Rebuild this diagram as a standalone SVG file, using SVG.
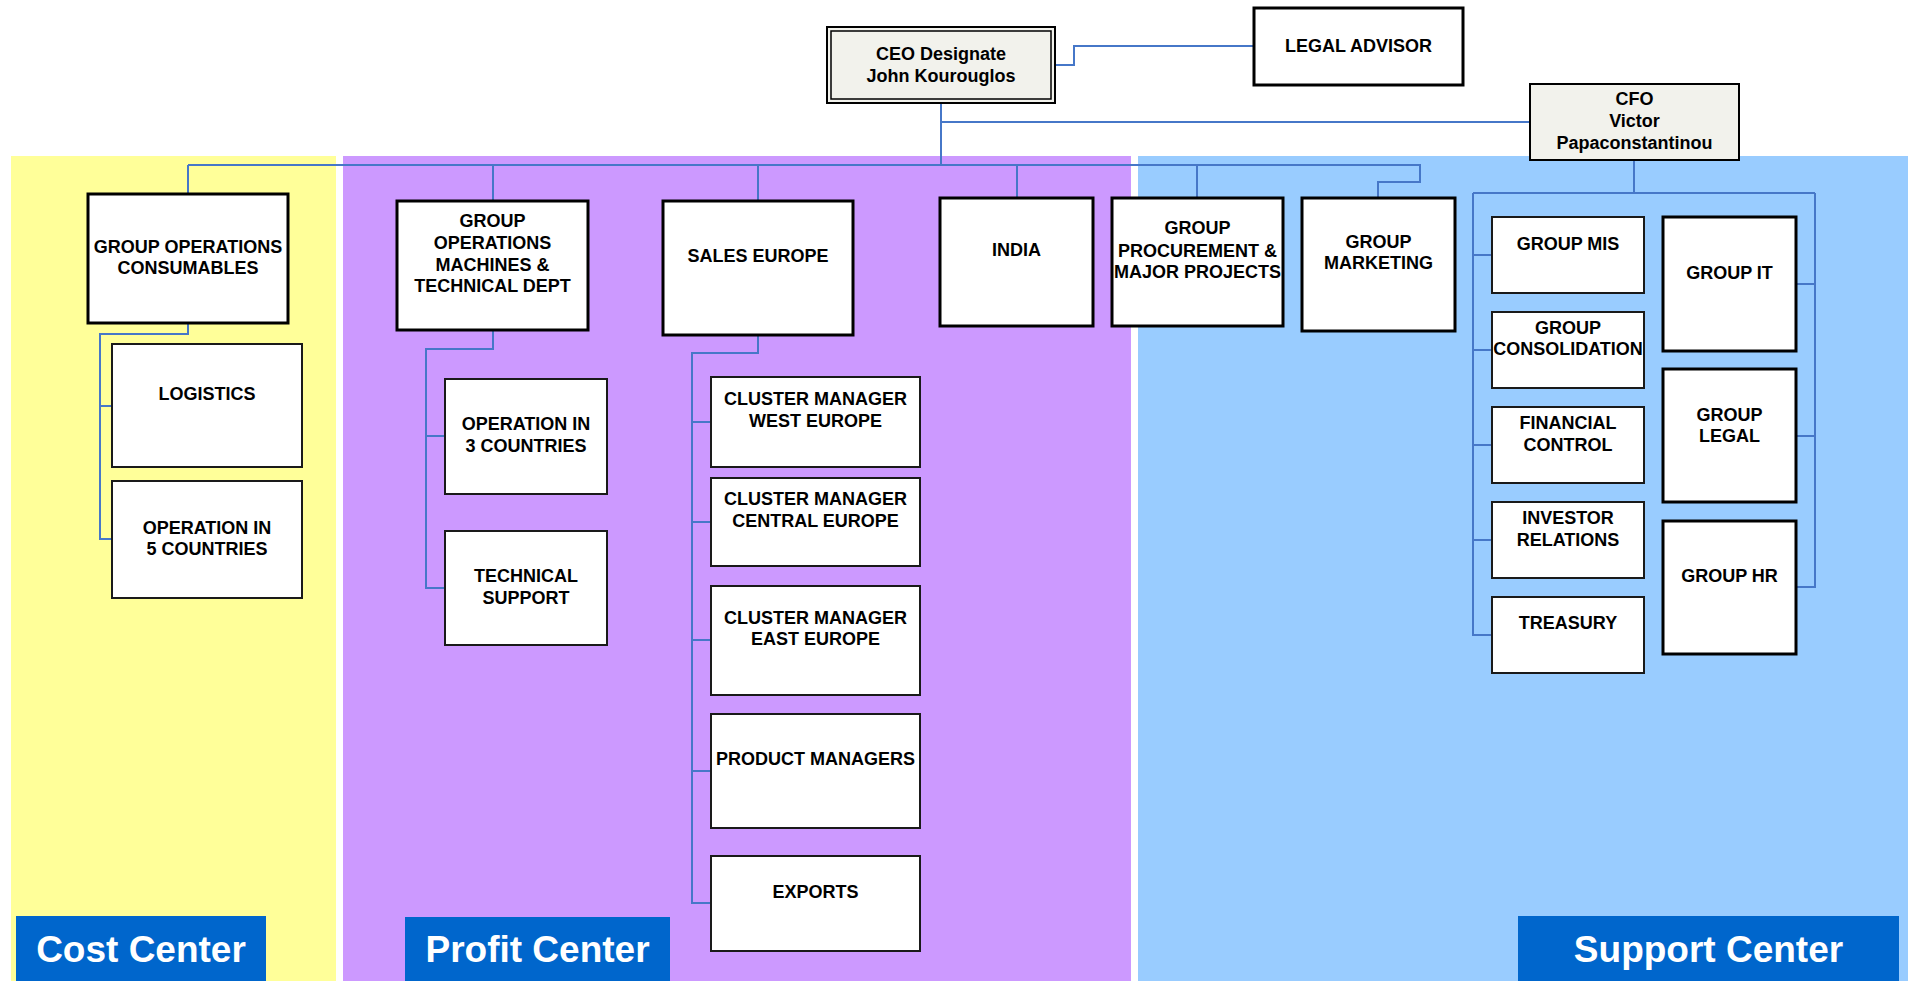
<svg xmlns="http://www.w3.org/2000/svg" width="1908" height="981" viewBox="0 0 1908 981">
<style>
text{font-family:"Liberation Sans",Arial,sans-serif;font-weight:bold;fill:#000;text-anchor:middle;font-size:18px}
.thick{fill:#fff;stroke:#000;stroke-width:3}
.thin{fill:#fff;stroke:#1a1a1a;stroke-width:2}
.exec{fill:#f2f2ec;stroke:#000;stroke-width:2}
.conn{fill:none;stroke:#4677c8;stroke-width:2}
.band{fill:#0066cc}
.bandt{fill:#fff;font-size:37px}
</style>
<rect width="1908" height="981" fill="#fff"/>
<g id="zones">
<rect x="11" y="156" width="325" height="825" fill="#ffff99"/>
<rect x="343" y="156" width="788" height="825" fill="#cc99ff"/>
<rect x="1138" y="156" width="770" height="825" fill="#99ccff"/>
</g>
<g id="connectors" class="conn">
<path d="M1055,65 H1074 V46 H1254"/>
<path d="M941,103 V165"/>
<path d="M941,122 H1530"/>
<path d="M188,165 H1420 V182 H1378 V198"/>
<path d="M188,165 V194 M493,165 V201 M758,165 V201 M1017,165 V198 M1197,165 V198"/>
<path d="M188,323 V334 H100 V539 H112 M100,406 H112"/>
<path d="M493,330 V349 H426 V588 H445 M426,436 H445"/>
<path d="M758,335 V353 H692 V903 H711 M692,422 H711 M692,522 H711 M692,640 H711 M692,771 H711"/>
<path d="M1634,160 V193 M1473,193 H1815"/>
<path d="M1473,193 V635 H1492 M1473,255 H1492 M1473,350 H1492 M1473,445 H1492 M1473,540 H1492"/>
<path d="M1815,193 V587 H1796 M1815,284 H1796 M1815,436 H1796"/>
</g>
<g id="ceo">
<rect class="exec" x="827" y="27" width="228" height="76"/>
<rect x="831" y="31" width="220" height="68" fill="none" stroke="#000" stroke-width="1.5"/>
<text x="941" y="60">CEO Designate</text>
<text x="941" y="82">John Kourouglos</text>
</g>
<g id="legal-advisor">
<rect class="thick" x="1254" y="8" width="209" height="77"/>
<text x="1358.5" y="52">LEGAL ADVISOR</text>
</g>
<g id="cfo">
<rect class="exec" x="1530" y="84" width="209" height="76"/>
<text x="1634.5" y="105">CFO</text>
<text x="1634.5" y="127">Victor</text>
<text x="1634.5" y="149">Papaconstantinou</text>
</g>
<g id="group-operations-consumables">
<rect class="thick" x="88" y="194" width="200" height="129"/>
<text x="188" y="253">GROUP OPERATIONS</text>
<text x="188" y="274">CONSUMABLES</text>
</g>
<g id="logistics">
<rect class="thin" x="112" y="344" width="190" height="123"/>
<text x="207" y="400">LOGISTICS</text>
</g>
<g id="operation-5-countries">
<rect class="thin" x="112" y="481" width="190" height="117"/>
<text x="207" y="534">OPERATION IN</text>
<text x="207" y="555">5 COUNTRIES</text>
</g>
<g id="group-operations-machines">
<rect class="thick" x="397" y="201" width="191" height="129"/>
<text x="492.5" y="227">GROUP</text>
<text x="492.5" y="249">OPERATIONS</text>
<text x="492.5" y="270.5">MACHINES &amp;</text>
<text x="492.5" y="292">TECHNICAL DEPT</text>
</g>
<g id="operation-3-countries">
<rect class="thin" x="445" y="379" width="162" height="115"/>
<text x="526" y="430">OPERATION IN</text>
<text x="526" y="452">3 COUNTRIES</text>
</g>
<g id="technical-support">
<rect class="thin" x="445" y="531" width="162" height="114"/>
<text x="526" y="582">TECHNICAL</text>
<text x="526" y="604">SUPPORT</text>
</g>
<g id="sales-europe">
<rect class="thick" x="663" y="201" width="190" height="134"/>
<text x="758" y="262">SALES EUROPE</text>
</g>
<g id="cluster-west">
<rect class="thin" x="711" y="377" width="209" height="90"/>
<text x="815.5" y="405">CLUSTER MANAGER</text>
<text x="815.5" y="427">WEST EUROPE</text>
</g>
<g id="cluster-central">
<rect class="thin" x="711" y="478" width="209" height="88"/>
<text x="815.5" y="505">CLUSTER MANAGER</text>
<text x="815.5" y="527">CENTRAL EUROPE</text>
</g>
<g id="cluster-east">
<rect class="thin" x="711" y="586" width="209" height="109"/>
<text x="815.5" y="624">CLUSTER MANAGER</text>
<text x="815.5" y="645">EAST EUROPE</text>
</g>
<g id="product-managers">
<rect class="thin" x="711" y="714" width="209" height="114"/>
<text x="815.5" y="765">PRODUCT MANAGERS</text>
</g>
<g id="exports">
<rect class="thin" x="711" y="856" width="209" height="95"/>
<text x="815.5" y="898">EXPORTS</text>
</g>
<g id="india">
<rect class="thick" x="940" y="198" width="153" height="128"/>
<text x="1016.5" y="256">INDIA</text>
</g>
<g id="group-procurement">
<rect class="thick" x="1112" y="198" width="171" height="128"/>
<text x="1197.5" y="234">GROUP</text>
<text x="1197.5" y="257">PROCUREMENT &amp;</text>
<text x="1197.5" y="278">MAJOR PROJECTS</text>
</g>
<g id="group-marketing">
<rect class="thick" x="1302" y="198" width="153" height="133"/>
<text x="1378.5" y="248">GROUP</text>
<text x="1378.5" y="269">MARKETING</text>
</g>
<g id="group-mis">
<rect class="thin" x="1492" y="217" width="152" height="76"/>
<text x="1568" y="249.5">GROUP MIS</text>
</g>
<g id="group-consolidation">
<rect class="thin" x="1492" y="312" width="152" height="76"/>
<text x="1568" y="333.5">GROUP</text>
<text x="1568" y="355">CONSOLIDATION</text>
</g>
<g id="financial-control">
<rect class="thin" x="1492" y="407" width="152" height="76"/>
<text x="1568" y="429">FINANCIAL</text>
<text x="1568" y="450.5">CONTROL</text>
</g>
<g id="investor-relations">
<rect class="thin" x="1492" y="502" width="152" height="76"/>
<text x="1568" y="523.5">INVESTOR</text>
<text x="1568" y="545.5">RELATIONS</text>
</g>
<g id="treasury">
<rect class="thin" x="1492" y="597" width="152" height="76"/>
<text x="1568" y="629">TREASURY</text>
</g>
<g id="group-it">
<rect class="thick" x="1663" y="217" width="133" height="134"/>
<text x="1729.5" y="278.5">GROUP IT</text>
</g>
<g id="group-legal">
<rect class="thick" x="1663" y="369" width="133" height="133"/>
<text x="1729.5" y="420.5">GROUP</text>
<text x="1729.5" y="442">LEGAL</text>
</g>
<g id="group-hr">
<rect class="thick" x="1663" y="521" width="133" height="133"/>
<text x="1729.5" y="582">GROUP HR</text>
</g>
<g id="cost-center">
<rect class="band" x="16" y="916" width="250" height="65"/>
<text class="bandt" x="141" y="962">Cost Center</text>
</g>
<g id="profit-center">
<rect class="band" x="405" y="917" width="265" height="64"/>
<text class="bandt" x="537.5" y="962">Profit Center</text>
</g>
<g id="support-center">
<rect class="band" x="1518" y="916" width="381" height="65"/>
<text class="bandt" x="1708.5" y="962">Support Center</text>
</g>
</svg>
